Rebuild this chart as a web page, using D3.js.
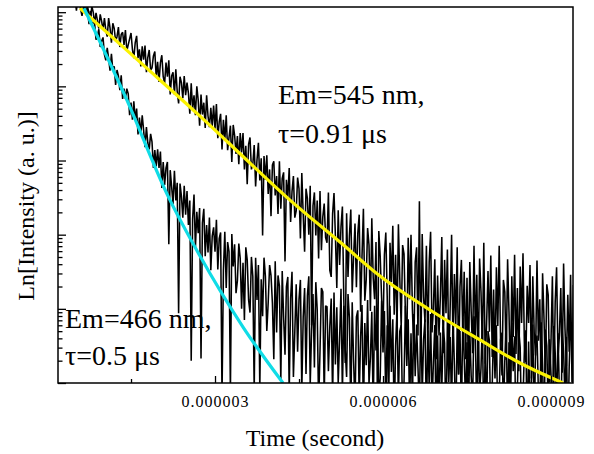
<!DOCTYPE html>
<html lang="en">
<head>
<meta charset="UTF-8">
<title>Luminescence decay</title>
<style>
  body { margin: 0; background: #fff; }
  svg text { font-family: "Liberation Serif", "Times New Roman", serif; fill: #000; }
</style>
</head>
<body>
<svg id="chart"></svg>
<script src="https://d3js.org/d3.v7.min.js"></script>
<script>
// time channels of the decay traces (microseconds)
var timeStartUs = 0.5, timeStepUs = 0.025;

// log10 of measured intensity, one value per time channel (20 per row = 0.5 us)
var em545 = [
  5.19, 5.02, 5.20, 5.20, 5.04, 4.95, 5.07, 5.15, 4.96, 5.07, 4.98, 4.88, 5.08, 5.00, 4.85, 4.99, 4.89, 4.78, 4.97, 4.88,
  4.76, 4.92, 4.76, 4.67, 4.92, 4.79, 4.59, 4.85, 4.78, 4.61, 4.67, 4.80, 4.53, 4.70, 4.73, 4.56, 4.76, 4.48, 4.56, 4.64,
  4.72, 4.50, 4.38, 4.59, 4.68, 4.38, 4.50, 4.27, 4.54, 4.36, 4.55, 4.19, 4.39, 4.49, 4.22, 4.25, 4.41, 4.47, 4.12, 4.33,
  4.06, 4.32, 4.42, 4.13, 4.04, 4.32, 4.13, 4.35, 3.89, 4.14, 4.19, 3.89, 4.23, 3.93, 3.77, 4.13, 4.05, 3.84, 4.14, 3.88,
  4.05, 3.91, 3.63, 4.04, 3.69, 3.88, 3.61, 4.00, 3.81, 3.47, 3.89, 3.62, 3.78, 3.44, 3.88, 3.60, 3.45, 3.71, 3.46, 3.74,
  3.43, 3.76, 3.30, 3.52, 3.63, 3.15, 3.55, 3.27, 3.61, 3.14, 3.31, 3.47, 2.98, 3.48, 3.34, 3.09, 3.33, 2.95, 3.37, 3.11,
  3.37, 2.88, 3.20, 2.68, 3.22, 3.31, 2.88, 2.95, 3.21, 2.65, 3.01, 3.24, 2.73, 3.03, 1.99, 3.06, 2.74, 3.07, 2.55, 2.88,
  2.25, 2.94, 2.99, 2.53, 2.79, 2.28, 2.99, 2.35, 2.76, 2.84, 1.64, 2.74, 2.49, 2.90, 2.17, 2.58, 2.79, 2.23, 2.32, 2.77,
  2.62, 1.95, 2.83, 2.27, 1.77, 2.62, 2.49, 2.00, 2.66, 0.78, 2.39, 2.57, 1.99, 2.46, 1.68, 2.59, 1.79, 2.24, 2.42, 1.96,
  1.89, 2.57, 1.52, 1.43, 2.28, 2.56, 1.98, 1.28, 2.33, 1.59, 2.11, 2.38, 1.13, 0.27, 2.29, 1.43, 1.98, 2.34, 1.22, 1.71,
  2.15, 1.29, 2.02, 2.27, 0.96, 1.71, 2.35, 1.11, 1.39, 2.09, 1.86, 0.97, 2.22, 1.42, 1.13, 1.90, -0.23, 2.05, 1.71, 1.15,
  0.67, 1.73, 2.03, 1.17, -0.10, 1.89, 1.36, 2.12, 0.92, 1.73, 0.69, 2.14, 1.40, 0.76, 1.86, 1.74, 0.95, 0.52, 1.96, 1.13,
  2.00, 0.99, 0.44, 1.63, 1.83, 0.64, 2.45, 0.29, 2.01, 1.16, 0.82, 1.85, 0.48, 1.63, 2.04, 0.68, 1.00, 1.67, 0.32, 1.45,
  0.64, 1.18, 1.97, 0.40, 1.66, 0.94, 1.80, 0.27, 1.04, 2.00, 0.48, 1.47, 0.79, 1.83, 0.12, 1.30, 1.66, 0.66, 1.50, 0.32,
  1.42, 0.09, 1.63, 0.96, 0.40, 1.85, 0.62, 1.46, 0.17, 1.68, 1.23, 0.49, 1.89, 0.26, 0.80, 1.51, 0.69, 1.72, 0.35, 1.26,
  0.23, 1.56, 0.77, 1.85, 0.54, 0.10, 1.39, 1.23, 0.31, 1.67, 0.96, -0.03, 1.44, 0.62, 1.73, 0.39, 1.28, 0.16, 1.57, 0.81,
  1.75, 0.50, 0.28, 1.31, 0.81, 1.59, 0.06, 1.44, 0.68, 0.37, 1.65, 0.57, 1.13, -0.07, 1.48, 0.87, 0.13, 1.33, 1.19, 0.01,
  0.56, 1.44, -0.05, 1.09, 1.56, 0.34, 0.64, 1.28, 0.14, 1.61, 0.73, 0.23, 1.19, 0.42, 1.46, 0.01, 1.32
];
var em466 = [
  5.36, 5.43, 5.32, 5.20, 5.33, 5.08, 5.20, 5.04, 5.13, 5.02, 4.84, 5.02, 4.81, 4.87, 4.85, 4.63, 4.68, 4.77, 4.53, 4.61,
  4.66, 4.43, 4.35, 4.52, 4.38, 4.21, 4.44, 4.22, 4.27, 4.02, 4.22, 4.14, 3.95, 4.15, 3.83, 3.97, 3.83, 3.97, 3.90, 3.61,
  3.78, 3.55, 3.80, 3.55, 3.70, 3.35, 3.58, 3.36, 3.61, 3.41, 3.18, 3.45, 3.24, 3.15, 3.36, 3.25, 2.90, 3.14, 2.92, 3.15,
  2.90, 3.12, 2.63, 2.98, 2.67, 2.90, 2.98, 1.87, 2.87, 2.65, 2.41, 2.86, 2.46, 2.70, 0.94, 2.69, 2.52, 2.23, 2.66, 2.27,
  2.59, 2.13, 2.46, 0.30, 2.21, 2.54, 1.82, 2.31, 2.02, 2.36, 0.33, 2.16, 2.35, 1.71, 2.13, 1.76, 2.23, 1.52, 1.98, 2.10,
  1.77, 2.20, 1.53, 1.95, 2.03, -0.20, 1.52, 2.04, 1.28, 1.90, 1.77, -0.12, 2.01, 1.57, 1.87, 1.21, 1.38, 1.88, 1.68, 1.00,
  1.62, 0.85, 1.83, 1.66, 1.12, 0.95, 1.70, 1.44, -0.11, 1.69, 1.12, 1.59, -0.07, 1.40, 0.90, 1.69, 1.44, 0.70, 1.09, 1.59,
  1.45, 1.08, 0.32, 1.64, 0.68, 1.45, 1.31, 0.03, 1.51, 0.89, 0.38, 1.30, 1.43, -0.15, 1.14, 1.50, 0.08, 0.69, 1.33, 0.42,
  1.13, 1.39, -0.10, 0.89, 1.28, 0.12, 1.18, 1.44, -0.02, 0.72, 1.20, 0.21, 1.36, 0.99, -0.31, 0.43, 1.28, 1.23, -0.22, 1.04,
  1.03, 0.16, 0.76, 1.14, -0.22, 1.22, 0.25, 1.02, 0.00, 0.59, 1.27, -0.14, 1.04, 0.45, 0.08, 1.20, 0.88, -0.42, 1.09, 0.29,
  -0.32, 0.89, 0.98, -0.22, 0.62, 1.05, -0.47, 0.81, 0.24, 1.12, -0.01, 0.34, 0.96, -0.39, 1.04, 0.44, 0.85, -0.17, 0.06, 1.11,
  0.41, 0.97, -0.32, 0.78, -0.08, 1.04, 0.15, 0.86, -0.58, 0.50, 0.98, -0.23, 0.70, 0.78, -0.48, 0.00, 1.04, 0.23, 0.86, -0.38,
  0.67, -0.26, 0.93, 0.09, 0.79, 0.20, -0.40, 1.00, -0.17, 0.59, 0.86, -0.54, 0.71, -0.07, 0.93, -0.32, 0.28, 0.78, -0.69, 0.64,
  -0.46, 0.68, -0.10, 0.76, 0.54, -0.71, 0.85, 0.01, 0.62, -0.36, 0.93, 0.24, -0.60, 0.79, 0.11, 0.70, -0.49, 0.88, 0.34, -0.26,
  0.55, -0.62, 0.69, 0.09, -0.27, 0.90, 0.63, -0.51, 0.76, -0.16, 0.20, 0.85, -0.76, 0.48, -0.41, 0.70, 0.57, -0.65, -0.06, 0.78,
  0.06, 0.78, -0.66, -0.18, 0.59, 0.68, -0.43, 0.29, 0.86, -0.55, 0.55, -0.32, 0.81, 0.16, 0.63, -0.80, -0.08, 0.71, 0.48, -0.69,
  -0.21, 0.44, 0.71, -0.81, 0.56, -0.34, 0.02, 0.79, -0.58, 0.47, 0.64, -0.11, -0.47, 0.82, 0.25, -0.71, 0.72, 0.50, -0.36, 0.59,
  0.12, -0.60, 0.77, 0.41, -0.37, 0.67, -0.13, -0.85, 0.71, 0.44, -0.25, 0.62, -0.74, 0.22, 0.79, 0.52, -0.62
];

// fitted decay curves (time in us, log10 intensity)
var fit545T = [0.589, 1.661, 2.732, 3.625, 4.339, 5.232, 5.946, 6.839, 7.732, 8.446, 9.214];
var fit545V = [5.054, 4.326, 3.598, 2.965, 2.466, 1.900, 1.442, 0.984, 0.580, 0.270, 0.0];
var fit466T = [0.661, 1.411, 2.161, 2.732, 3.500, 4.214];
var fit466V = [5.054, 3.841, 2.520, 1.712, 0.755, 0.0];

var xMajorTicks = [3e-6, 6e-6, 9e-6];
var xMinorTicks = [1.5e-6, 4.5e-6, 7.5e-6];
var xDomain = [0.196e-6, 9.393e-6];
var yDomainLog = [0, 5.07];

var serif = "'Liberation Serif', 'Times New Roman', serif";
var svgWidth = 594, svgHeight = 454;
var margin = { top: 7, right: 21, bottom: 71, left: 58 };
var width = svgWidth - margin.left - margin.right;
var height = svgHeight - margin.top - margin.bottom;

var svg = d3.select("#chart").attr("width", svgWidth).attr("height", svgHeight);
svg.append("rect").attr("width", svgWidth).attr("height", svgHeight).attr("fill", "#fff");

var g = svg.append("g").attr("transform", "translate(" + margin.left + "," + margin.top + ")");

var x = d3.scaleLinear().domain(xDomain).range([0, width]);
var y = d3.scaleLog().domain(yDomainLog.map(function(v) { return Math.pow(10, v); })).range([height, 0]);

g.append("clipPath").attr("id", "plot-clip")
  .append("rect").attr("width", width).attr("height", height);

function toPoints(values) {
  return values.map(function(v, i) {
    return { t: (timeStartUs + i * timeStepUs) * 1e-6, I: Math.pow(10, v) };
  });
}
function fitPoints(ts, vs) {
  return ts.map(function(t, i) { return { t: t * 1e-6, I: Math.pow(10, vs[i]) }; });
}

var line = d3.line()
  .x(function(d) { return x(d.t); })
  .y(function(d) { return y(d.I); });
var smooth = d3.line()
  .curve(d3.curveMonotoneX)
  .x(function(d) { return x(d.t); })
  .y(function(d) { return y(d.I); });

var plot = g.append("g").attr("clip-path", "url(#plot-clip)");

[em466, em545].forEach(function(series) {
  plot.append("path")
    .datum(toPoints(series))
    .attr("fill", "none")
    .attr("stroke", "#000")
    .attr("stroke-width", 1.55)
    .attr("stroke-linejoin", "bevel")
    .attr("d", line);
});

plot.append("path")
  .datum(fitPoints(fit545T, fit545V))
  .attr("fill", "none").attr("stroke", "#fbf200").attr("stroke-width", 3.2)
  .attr("d", smooth);
plot.append("path")
  .datum(fitPoints(fit466T, fit466V))
  .attr("fill", "none").attr("stroke", "#10dce6").attr("stroke-width", 3.2)
  .attr("d", smooth);

// y axis: decades and log minor ticks, pointing inward, no labels
var yMajor = [], yMinor = [];
for (var k = 0; k <= 5; k++) {
  yMajor.push(Math.pow(10, k));
  for (var m = 2; m <= 9; m++) {
    var val = m * Math.pow(10, k);
    if (val < y.domain()[1]) yMinor.push(val);
  }
}
g.append("g").attr("class", "axis")
  .call(d3.axisLeft(y).tickValues(yMajor).tickSize(-8).tickFormat(""));
g.append("g").attr("class", "axis")
  .call(d3.axisLeft(y).tickValues(yMinor).tickSize(-4.5).tickFormat(""));

// x axis
g.append("g").attr("class", "axis")
  .attr("transform", "translate(0," + height + ")")
  .call(d3.axisBottom(x).tickValues(xMajorTicks).tickSize(-7).tickPadding(13)
    .tickFormat(d3.format(".6f")))
  .selectAll("text")
  .style("font-family", serif).style("font-size", "16px").style("letter-spacing", "1px");
g.append("g").attr("class", "axis")
  .attr("transform", "translate(0," + height + ")")
  .call(d3.axisBottom(x).tickValues(xMinorTicks).tickSize(-4).tickFormat(""));

g.selectAll(".axis .domain").remove();
g.selectAll(".axis line").attr("stroke", "#000").attr("stroke-width", 1.3);

// frame
g.append("rect")
  .attr("width", width).attr("height", height)
  .attr("fill", "none").attr("stroke", "#000").attr("stroke-width", 1.5);

// annotations
function note(px, py, str) {
  g.append("text").attr("x", px).attr("y", py)
    .style("font-family", serif).style("font-size", "28px").text(str);
}
note(220, 97, "Em=545 nm,");
note(220, 136, "\u03c4=0.91 \u03bcs");
note(7, 321, "Em=466 nm,");
note(7, 358, "\u03c4=0.5 \u03bcs");

// axis titles
svg.append("text")
  .attr("transform", "translate(" + (svgWidth / 2 + 18) + "," + 446 + ")")
  .style("text-anchor", "middle").style("font-family", serif).style("font-size", "24px")
  .text("Time (second)");
svg.append("text")
  .attr("transform", "translate(34," + 206 + ") rotate(-90)")
  .style("text-anchor", "middle").style("font-family", serif).style("font-size", "24px")
  .text("Ln[Intensity (a. u.)]");
</script>
</body>
</html>
